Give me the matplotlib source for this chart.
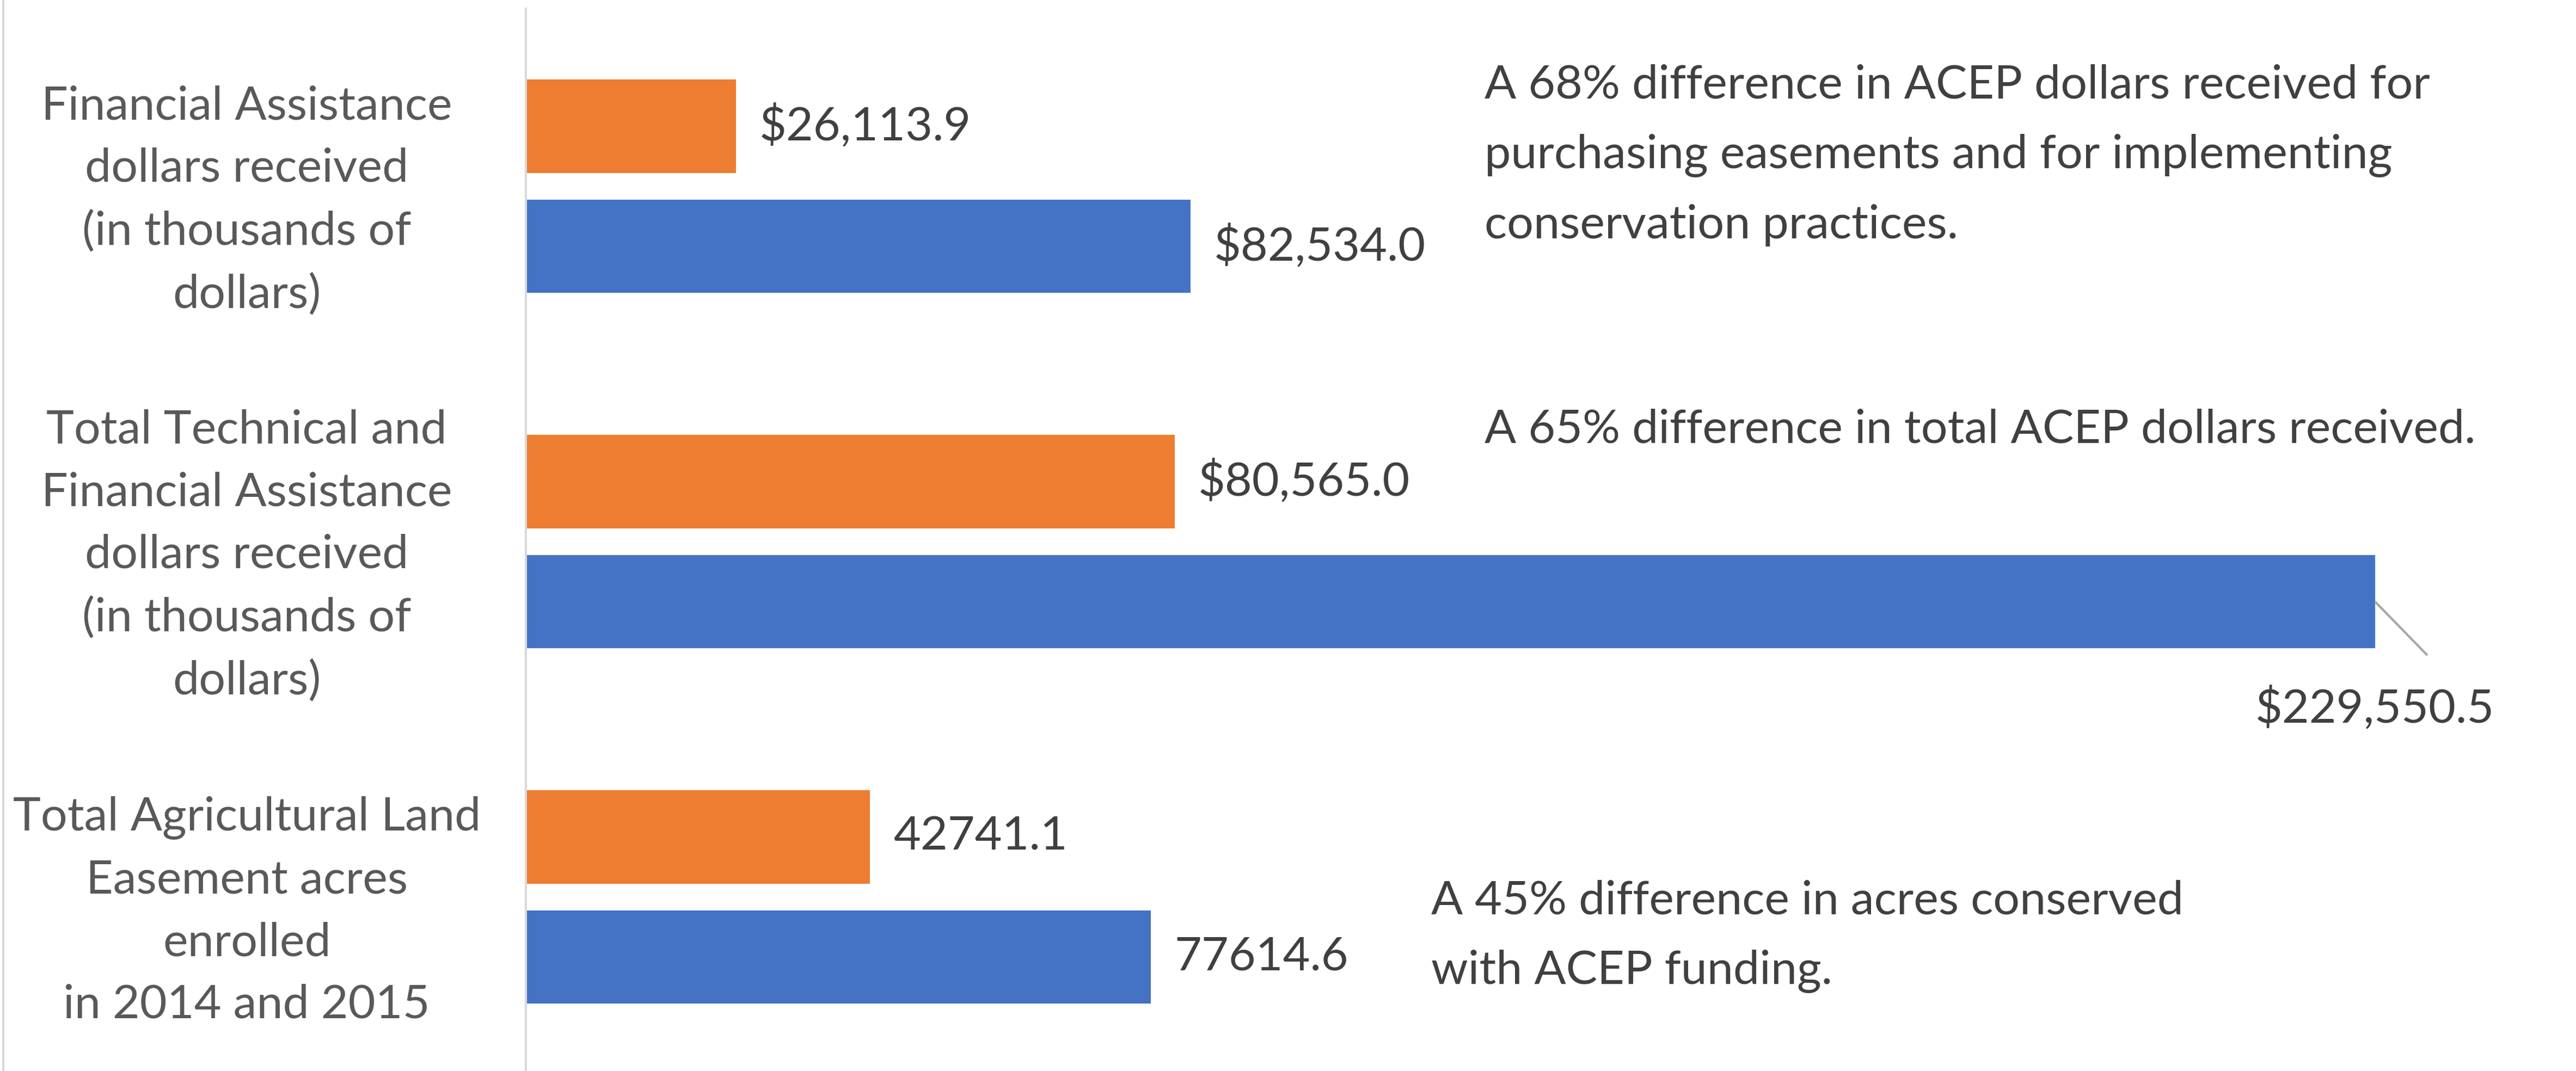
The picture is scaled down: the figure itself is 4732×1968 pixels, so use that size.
import numpy as np
import matplotlib.pyplot as plt
from matplotlib.lines import Line2D

plt.rcParams['font.family'] = ['Lato', 'DejaVu Sans']

categories = ["Financial Assistance\ndollars received\n(in thousands of\ndollars)",
              "Total Technical and\nFinancial Assistance\ndollars received\n(in thousands of\ndollars)",
              "Total Agricultural Land\nEasement acres\nenrolled\nin 2014 and 2015"]
orange_vals = [26113.9, 80565.0, 42741.1]
blue_vals = [82534.0, 229550.5, 77614.6]
orange_labels = ["$26,113.9", "$80,565.0", "42741.1"]
blue_labels = ["$82,534.0", "$229,550.5", "77614.6"]
notes = ["A 68% difference in ACEP dollars received for\npurchasing easements and for implementing\nconservation practices.",
         "A 65% difference in total ACEP dollars received.",
         "A 45% difference in acres conserved\nwith ACEP funding."]

ORANGE = "#ED7D31"
BLUE = "#4472C4"
TXT = "#404040"
FS = 62

fig = plt.figure(figsize=(47.32, 19.68), dpi=100)
ax = fig.add_axes([0.2041, 0.0, 0.7959, 0.992])

y = np.arange(len(categories))
h = 0.263
off = 0.169
ax.barh(y - off, orange_vals, height=h, color=ORANGE)
ax.barh(y + off, blue_vals, height=h, color=BLUE)

ax.set_ylim(2.49, -0.5)
ax.set_xlim(0, 254500)
ax.set_yticks(y)
ax.set_yticklabels(categories, fontsize=FS, color="#595959", linespacing=1.58,
                   ha="center")
ax.tick_params(axis="y", length=0, pad=369)
ax.set_xticks([])
for s in ["top", "right", "bottom"]:
    ax.spines[s].set_visible(False)
ax.spines["left"].set_color("#d9d9d9")
ax.spines["left"].set_linewidth(3)

pad = 2900
for i in range(3):
    ax.text(orange_vals[i] + pad, y[i] - off, orange_labels[i], fontsize=FS,
            color=TXT, va="center", ha="left")
    if i == 1:
        # leader line to the label placed below the long bar
        ax.plot([blue_vals[i], blue_vals[i] + 6500], [y[i] + off, y[i] + 0.32],
                color="#a6a6a6", lw=3, solid_capstyle="butt")
        ax.text(blue_vals[i], y[i] + 0.47, blue_labels[i], fontsize=FS,
                color=TXT, ha="center", va="center")
    else:
        ax.text(blue_vals[i] + pad, y[i] + off, blue_labels[i], fontsize=FS,
                color=TXT, va="center", ha="left")

ax.text(119000, -0.087, notes[0], fontsize=FS, color=TXT, va="center",
        ha="left", linespacing=1.79)
ax.text(119000, 0.685, notes[1], fontsize=FS, color=TXT, va="center", ha="left")
ax.text(112400, 2.11, notes[2], fontsize=FS, color=TXT, va="center",
        ha="left", linespacing=1.79)

fig.add_artist(Line2D([0.0012, 0.0012], [0, 1], transform=fig.transFigure,
                      color="#d9d9d9", lw=3))

fig.savefig("out.png", dpi=100, facecolor="white")
